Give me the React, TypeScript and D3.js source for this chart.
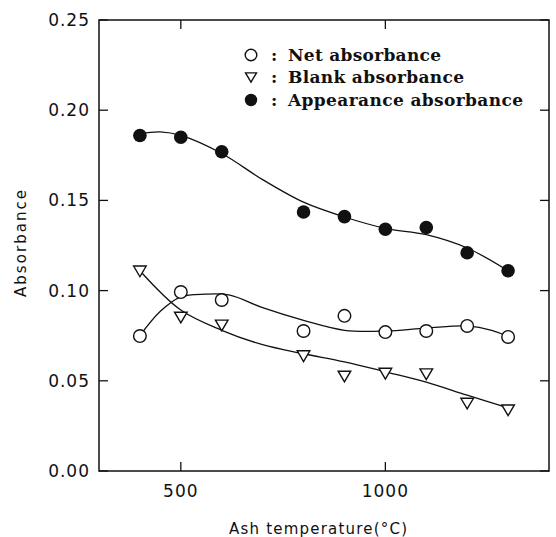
import { useEffect, useRef } from 'react';
import * as d3 from 'd3';

const temps = [400, 500, 600, 800, 900, 1000, 1100, 1200, 1300];
const netValues = [0.0748, 0.0992, 0.0948, 0.0776, 0.086, 0.077, 0.0776, 0.0804, 0.0743];
const blankValues = [0.111, 0.0854, 0.081, 0.064, 0.0527, 0.0543, 0.054, 0.0377, 0.034];
const appearanceValues = [0.186, 0.185, 0.177, 0.1436, 0.141, 0.134, 0.135, 0.121, 0.111];

// fitted curves as drawn in the figure
const netFitX = [400, 450, 500, 560, 620, 700, 800, 900, 1000, 1100, 1200, 1260, 1300];
const netFitY = [0.075, 0.0885, 0.0965, 0.098, 0.0975, 0.0905, 0.0835, 0.078, 0.0776, 0.0792, 0.0804, 0.078, 0.0745];
const blankFitX = [400, 500, 600, 700, 800, 900, 1000, 1100, 1200, 1300];
const blankFitY = [0.111, 0.0892, 0.078, 0.07, 0.065, 0.0605, 0.055, 0.0493, 0.042, 0.035];
const appFitX = [400, 450, 500, 600, 700, 800, 900, 1000, 1100, 1200, 1300];
const appFitY = [0.187, 0.188, 0.186, 0.176, 0.1615, 0.149, 0.1408, 0.1345, 0.131, 0.1236, 0.111];

const xTicks = [500, 1000];
const yTicks = [0, 0.05, 0.1, 0.15, 0.2, 0.25];

const legendItems = ['Net absorbance', 'Blank absorbance', 'Appearance absorbance'];

const App = () => {
  const svgRef = useRef<SVGSVGElement>(null);

  useEffect(() => {
    if (!svgRef.current) return;
    const svg = d3.select(svgRef.current);
    svg.selectAll('*').remove();

    const left = 99;
    const right = 549;
    const top = 20;
    const bottom = 471;

    const x = d3.scaleLinear().domain([300, 1400]).range([left, right]);
    const y = d3.scaleLinear().domain([0, 0.25]).range([bottom, top]);

    // frame
    svg
      .append('rect')
      .attr('x', left)
      .attr('y', top)
      .attr('width', right - left)
      .attr('height', bottom - top)
      .attr('fill', 'none')
      .attr('stroke', '#111')
      .attr('stroke-width', 1.5);

    // inner ticks
    yTicks.forEach((t) => {
      svg.append('line').attr('x1', left).attr('x2', left + 9).attr('y1', y(t)).attr('y2', y(t))
        .attr('stroke', '#111').attr('stroke-width', 1.3);
      svg.append('line').attr('x1', right).attr('x2', right - 9).attr('y1', y(t)).attr('y2', y(t))
        .attr('stroke', '#111').attr('stroke-width', 1.3);
      svg
        .append('text')
        .attr('x', 90)
        .attr('y', y(t) + 6)
        .attr('text-anchor', 'end')
        .attr('font-family', 'DejaVu Sans')
        .attr('font-size', 17)
        .attr('letter-spacing', 1)
        .attr('fill', '#111')
        .text(t.toFixed(2));
    });

    xTicks.forEach((t) => {
      svg.append('line').attr('x1', x(t)).attr('x2', x(t)).attr('y1', bottom).attr('y2', bottom - 9)
        .attr('stroke', '#111').attr('stroke-width', 1.3);
      svg.append('line').attr('x1', x(t)).attr('x2', x(t)).attr('y1', top).attr('y2', top + 9)
        .attr('stroke', '#111').attr('stroke-width', 1.3);
      svg
        .append('text')
        .attr('x', x(t))
        .attr('y', 497)
        .attr('text-anchor', 'middle')
        .attr('font-family', 'DejaVu Sans')
        .attr('font-size', 17)
        .attr('letter-spacing', 1)
        .attr('fill', '#111')
        .text(String(t));
    });

    // axis titles
    svg
      .append('text')
      .attr('x', 229)
      .attr('y', 534)
      .attr('font-family', 'DejaVu Sans')
      .attr('font-size', 15)
      .attr('textLength', 178)
      .attr('lengthAdjust', 'spacing')
      .attr('fill', '#111')
      .text('Ash temperature(°C)');

    svg
      .append('text')
      .attr('transform', 'translate(26,297) rotate(-90)')
      .attr('font-family', 'DejaVu Sans')
      .attr('font-size', 15)
      .attr('textLength', 107)
      .attr('lengthAdjust', 'spacing')
      .attr('fill', '#111')
      .text('Absorbance');

    // fit curves
    const line = d3
      .line<[number, number]>()
      .x((d) => x(d[0]))
      .y((d) => y(d[1]))
      .curve(d3.curveCatmullRom.alpha(0.5));

    const fits: [number[], number[]][] = [
      [netFitX, netFitY],
      [blankFitX, blankFitY],
      [appFitX, appFitY],
    ];
    fits.forEach(([fx, fy]) => {
      svg
        .append('path')
        .attr('d', line(fx.map((v, i) => [v, fy[i]] as [number, number])))
        .attr('fill', 'none')
        .attr('stroke', '#111')
        .attr('stroke-width', 1.3);
    });

    const tri = (cx: number, cy: number, s: number) =>
      `M${cx - s},${cy - s * 0.75}L${cx + s},${cy - s * 0.75}L${cx},${cy + s * 0.95}Z`;

    // markers
    temps.forEach((t, i) => {
      svg.append('circle').attr('cx', x(t)).attr('cy', y(netValues[i])).attr('r', 6.3)
        .attr('fill', 'white').attr('stroke', '#111').attr('stroke-width', 1.4);
      svg.append('path').attr('d', tri(x(t), y(blankValues[i]), 6.3))
        .attr('fill', 'white').attr('stroke', '#111').attr('stroke-width', 1.4);
      svg.append('circle').attr('cx', x(t)).attr('cy', y(appearanceValues[i])).attr('r', 6.8)
        .attr('fill', '#111');
    });

    // legend
    const legendY = [55, 77, 100];
    const legendWidths = [153, 176, 235];
    legendItems.forEach((label, i) => {
      const cy = legendY[i];
      if (i === 0) {
        svg.append('circle').attr('cx', 251).attr('cy', cy).attr('r', 5.8)
          .attr('fill', 'white').attr('stroke', '#111').attr('stroke-width', 1.4);
      } else if (i === 1) {
        svg.append('path').attr('d', tri(251, cy, 5.5))
          .attr('fill', 'white').attr('stroke', '#111').attr('stroke-width', 1.4);
      } else {
        svg.append('circle').attr('cx', 251).attr('cy', cy).attr('r', 6.2).attr('fill', '#111');
      }
      svg
        .append('text')
        .attr('x', 271)
        .attr('y', cy + 6)
        .attr('font-family', 'DejaVu Serif')
        .attr('font-weight', 'bold')
        .attr('font-size', 17)
        .attr('fill', '#111')
        .text(':');
      svg
        .append('text')
        .attr('x', 288)
        .attr('y', cy + 6)
        .attr('font-family', 'DejaVu Serif')
        .attr('font-weight', 'bold')
        .attr('font-size', 17)
        .attr('textLength', legendWidths[i])
        .attr('lengthAdjust', 'spacing')
        .attr('fill', '#111')
        .text(label);
    });
  }, []);

  return (
    <div style={{ position: 'absolute', left: 0, top: 0 }}>
      <svg ref={svgRef} width={556} height={537} style={{ display: 'block', background: '#fff' }} />
    </div>
  );
};

export default App;
